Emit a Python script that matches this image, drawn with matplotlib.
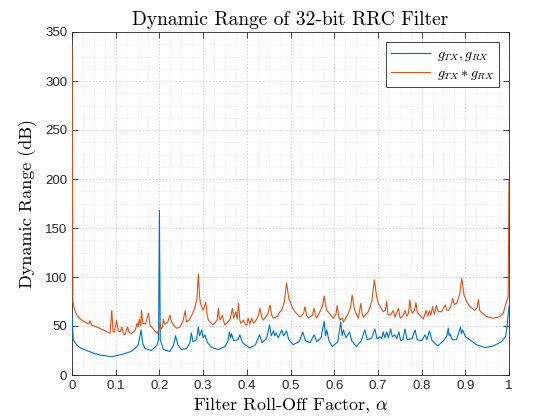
import numpy as np
import matplotlib
matplotlib.use('Agg')
import matplotlib.pyplot as plt
from matplotlib.ticker import MultipleLocator

plt.rcParams['mathtext.fontset'] = 'cm'
plt.rcParams['font.family'] = ['Liberation Sans', 'DejaVu Sans']

# values
alpha_tx = [0.000, 0.003, 0.010, 0.018, 0.034, 0.050, 0.064, 0.091, 0.117, 0.135,
            0.144, 0.152, 0.158, 0.162, 0.167, 0.182, 0.194, 0.198, 0.200, 0.202,
            0.209, 0.224, 0.232, 0.237, 0.242, 0.250, 0.262, 0.270, 0.273, 0.277,
            0.285, 0.289, 0.292, 0.297, 0.300, 0.304, 0.310, 0.320, 0.335, 0.350,
            0.357, 0.360, 0.363, 0.365, 0.370, 0.380, 0.384, 0.390, 0.407, 0.420,
            0.429, 0.435, 0.445, 0.452, 0.456, 0.461, 0.464, 0.467, 0.472, 0.480,
            0.484, 0.491, 0.496, 0.506, 0.520, 0.528, 0.534, 0.545, 0.554, 0.560,
            0.570, 0.577, 0.580, 0.583, 0.588, 0.596, 0.608, 0.615, 0.618, 0.621,
            0.627, 0.635, 0.640, 0.651, 0.662, 0.670, 0.676, 0.686, 0.693, 0.698,
            0.705, 0.709, 0.712, 0.716, 0.720, 0.724, 0.729, 0.733, 0.739, 0.743,
            0.748, 0.752, 0.757, 0.762, 0.767, 0.778, 0.785, 0.790, 0.800, 0.808,
            0.812, 0.818, 0.824, 0.837, 0.850, 0.858, 0.861, 0.863, 0.865, 0.870,
            0.880, 0.889, 0.891, 0.894, 0.900, 0.911, 0.925, 0.945, 0.964, 0.983,
            0.992, 0.995, 1.000]
dr_tx = [60, 36, 31, 28, 25, 22, 20.4, 18.7, 21.4, 24,
         27, 31, 46, 32, 27, 25, 30, 36, 168, 36,
         26, 24, 30, 40, 31, 26, 27, 33, 43, 34,
         36, 49, 40, 46, 38, 41, 33, 28, 26, 29,
         35, 44, 38, 42, 35, 36, 41, 33, 27.5, 31,
         41, 33, 37, 51, 40, 45, 40, 43, 38, 46,
         40, 45, 36, 31, 34, 44, 35, 33, 41, 34,
         38, 55, 40, 46, 35, 29, 34, 54, 40, 46,
         38, 44, 35, 29, 35, 46, 36, 38, 47, 37,
         39, 37, 44, 38, 44, 38, 47, 39, 41, 37,
         44, 35, 36, 47, 36, 37, 46, 36, 35, 41,
         36, 45, 35, 29.6, 35, 40, 48, 40, 42, 36,
         36, 49, 42, 46, 39, 35.7, 31, 28, 29.6, 34,
         39, 47, 70]

alpha_conv = [0.000, 0.002, 0.005, 0.011, 0.022, 0.038, 0.041, 0.045, 0.072, 0.087,
              0.091, 0.094, 0.097, 0.102, 0.106, 0.110, 0.114, 0.118, 0.121, 0.127,
              0.131, 0.137, 0.145, 0.149, 0.151, 0.154, 0.157, 0.159, 0.162, 0.168,
              0.175, 0.179, 0.182, 0.194, 0.199, 0.201, 0.204, 0.207, 0.209, 0.212,
              0.219, 0.224, 0.228, 0.232, 0.240, 0.247, 0.254, 0.259, 0.262, 0.268,
              0.274, 0.280, 0.286, 0.289, 0.292, 0.294, 0.300, 0.306, 0.309, 0.312,
              0.323, 0.332, 0.335, 0.337, 0.339, 0.344, 0.347, 0.350, 0.362, 0.367,
              0.370, 0.375, 0.378, 0.381, 0.384, 0.386, 0.392, 0.396, 0.400, 0.403,
              0.407, 0.411, 0.415, 0.419, 0.426, 0.430, 0.434, 0.438, 0.448, 0.453,
              0.457, 0.461, 0.470, 0.476, 0.480, 0.486, 0.491, 0.496, 0.499, 0.505,
              0.510, 0.522, 0.530, 0.533, 0.537, 0.541, 0.550, 0.554, 0.557, 0.560,
              0.567, 0.573, 0.577, 0.580, 0.583, 0.598, 0.604, 0.607, 0.610, 0.613,
              0.619, 0.621, 0.630, 0.637, 0.641, 0.645, 0.648, 0.655, 0.661, 0.664,
              0.667, 0.678, 0.686, 0.692, 0.697, 0.701, 0.712, 0.717, 0.720, 0.723,
              0.728, 0.735, 0.739, 0.747, 0.751, 0.757, 0.762, 0.766, 0.770, 0.773,
              0.776, 0.779, 0.784, 0.787, 0.790, 0.796, 0.804, 0.810, 0.814, 0.818,
              0.821, 0.825, 0.829, 0.834, 0.838, 0.846, 0.854, 0.858, 0.862, 0.867,
              0.871, 0.875, 0.880, 0.887, 0.892, 0.897, 0.904, 0.911, 0.922, 0.927,
              0.930, 0.933, 0.935, 0.949, 0.964, 0.979, 0.987, 0.991, 0.998, 1.000]
dr_conv = [335, 75, 68, 61, 56, 52, 55.4, 51, 46, 42.5,
           66, 44, 44, 56, 45, 44, 48.6, 42, 40.8, 49,
           43, 42.5, 46, 53, 49, 57, 50, 66, 52.7, 52,
           63, 50, 49, 42.5, 46, 52.7, 47, 49, 57, 52,
           54, 61, 54, 51, 47.6, 49, 55, 65.6, 54, 56,
           61, 67, 78, 103, 80, 73, 66, 74, 62, 56,
           51, 56, 68, 58, 56, 61, 55, 51, 57, 68,
           58, 64.6, 57, 73, 56, 52.7, 56, 52, 51, 58,
           52, 58, 53, 54, 60, 68, 59, 56, 62, 71.4,
           61, 58, 60, 64.6, 66, 75, 94, 78, 75, 68,
           64.6, 59, 63, 69.7, 61, 58, 61, 68, 61, 58,
           64.6, 70, 80.6, 72, 66, 58, 62, 71, 60, 56,
           58, 54, 61, 68, 81.6, 70, 64.6, 58, 73, 62,
           59, 64.6, 75, 97, 80, 73, 64.6, 66, 75, 62,
           61, 65.6, 59, 68, 58, 60, 66, 60, 63, 76.5,
           66, 63, 66, 73.8, 64, 61, 57, 66, 60, 65.6,
           61, 69.7, 62, 71, 64.6, 64.6, 71.4, 66, 66, 70,
           78, 72, 73, 82, 98.6, 81.6, 74, 69.7, 66, 69,
           77, 66, 64.6, 59.5, 58, 59.5, 63, 69.7, 80, 199]

x_ticks = np.arange(0, 1.01, 0.1)
x_tick_labels = ['0', '0.1', '0.2', '0.3', '0.4', '0.5', '0.6', '0.7', '0.8', '0.9', '1']
y_ticks = np.arange(0, 351, 50)

fig = plt.figure(figsize=(5.6, 4.2), dpi=100)
ax = fig.add_axes([72/560, 1 - 375/420, 437/560, 343/420])

ax.plot(alpha_tx, dr_tx, color='#0072BD', lw=0.8, zorder=3, label=r'$g_{TX}, g_{RX}$')
ax.plot(alpha_conv, dr_conv, color='#D95319', lw=0.8, zorder=3, label=r'$g_{TX} * g_{RX}$')

ax.set_xlim(0, 1)
ax.set_ylim(0, 350)
ax.set_xticks(x_ticks)
ax.set_xticklabels(x_tick_labels)
ax.set_yticks(y_ticks)
ax.xaxis.set_minor_locator(MultipleLocator(0.025))
ax.yaxis.set_minor_locator(MultipleLocator(12.5))
ax.tick_params(which='both', direction='in', top=True, right=True,
               colors='#262626', labelsize=9.5)
ax.tick_params(which='major', length=4, width=0.6)
ax.tick_params(which='minor', length=0)
ax.grid(which='major', color='#d0d0d0', ls=(0, (2, 2)), lw=0.6)
ax.grid(which='minor', color='#e0e0e0', ls=(0, (1, 2)), lw=0.5)
ax.set_axisbelow(True)
for s in ax.spines.values():
    s.set_color('#262626')
    s.set_linewidth(0.6)

ax.set_title('Dynamic Range of 32-bit RRC Filter', family='cmr10', fontsize=14, pad=5)
ax.set_xlabel(r'Filter Roll-Off Factor, $\alpha$', family='cmr10', fontsize=13, labelpad=2)
ax.set_ylabel('Dynamic Range (dB)', family='cmr10', fontsize=13, labelpad=6)

leg = ax.legend(loc='upper right', fontsize=10, fancybox=False, framealpha=1,
                edgecolor='#262626', borderaxespad=0.7, handlelength=2.8,
                handletextpad=0.5, borderpad=0.35, labelspacing=0.25)
leg.get_frame().set_linewidth(0.6)
leg.set_zorder(5)

fig.savefig('out.png', dpi=100)
